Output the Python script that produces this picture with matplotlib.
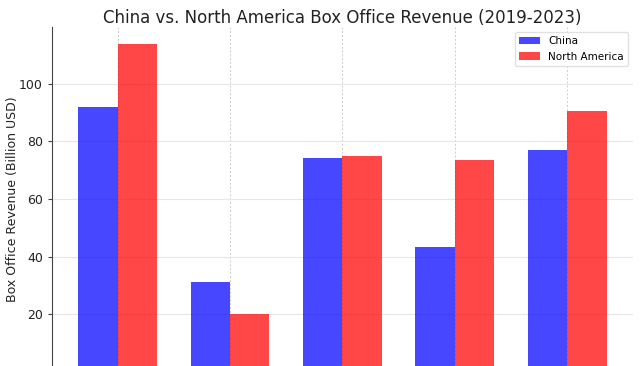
import matplotlib
matplotlib.use("Agg")
import matplotlib.pyplot as plt
import numpy as np

years = ["2019", "2020", "2021", "2022", "2023"]
china = [92.0, 31.0, 74.2, 43.3, 77.0]
north_america = [113.8, 20.0, 75.0, 73.7, 90.6]

fig = plt.figure(figsize=(6.4, 3.66), dpi=100)
ax = fig.add_axes([0.081, -0.0157, 0.908, 0.9417])

x = np.arange(len(years))
w = 0.35
ax.bar(x - w / 2, china, w, label="China", color="blue", alpha=0.72, zorder=2)
ax.bar(x + w / 2, north_america, w, label="North America", color="red", alpha=0.72, zorder=2)

# x tick labels (years) fall below the visible crop in the reference
ax.set_xticks(x)
ax.set_xticklabels(years)
ax.tick_params(axis="x", labelbottom=False, length=0)
ax.set_ylim(0, 119.7)
ax.set_yticks([20, 40, 60, 80, 100])
ax.tick_params(axis="y", labelsize=9, length=3, color="#444444", labelcolor="#222222")
ax.set_ylabel("Box Office Revenue (Billion USD)", fontsize=9, color="#222222")
ax.yaxis.set_label_coords(-0.056, 0.5)
ax.set_title("China vs. North America Box Office Revenue (2019-2023)", fontsize=12, color="#222222", pad=3)

ax.grid(axis="y", color="#e6e6e6", linewidth=0.8, zorder=0)
ax.grid(axis="x", color="#cccccc", linestyle=(0, (2, 2)), linewidth=0.7, zorder=0)
ax.set_axisbelow(True)
for s in ["top", "right", "bottom"]:
    ax.spines[s].set_visible(False)
ax.spines["left"].set_color("#444444")

ax.legend(loc="upper right", fontsize=7.5, frameon=True, framealpha=0.9, edgecolor="#dddddd")

fig.savefig("out.png", dpi=100)
